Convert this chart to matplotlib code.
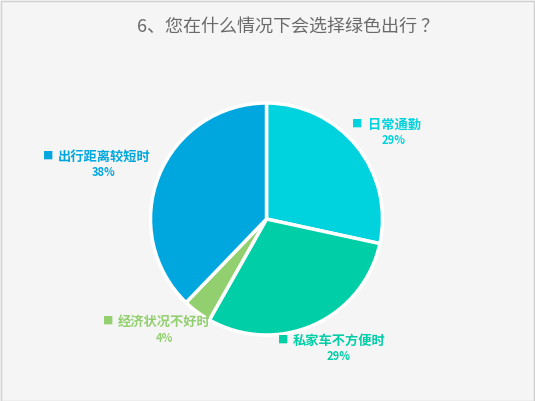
import matplotlib
matplotlib.use("Agg")
import matplotlib.pyplot as plt

plt.rcParams['font.family'] = ['Noto Sans CJK SC', 'DejaVu Sans']

# datos
categorias = ['日常通勤', '私家车不方便时', '经济状况不好时', '出行距离较短时']
valores = [28.4, 29.8, 4.0, 37.8]
etiquetas_pct = ['29%', '29%', '4%', '38%']
colores = ['#00D3DD', '#00CEA6', '#92D06F', '#00A7DE']

titulo = '6、您在什么情况下会选择绿色出行 ？'

W, H = 535, 401
fig = plt.figure(figsize=(W / 100, H / 100), dpi=100)
fig.patch.set_facecolor('#F5F5F5')

def px(x, y):
    # píxeles (desde arriba-izquierda) -> fracción de figura
    return x / W, 1 - y / H

# borde exterior
fig.add_artist(plt.Rectangle((0.5 / W, 0.5 / H), 1 - 1.5 / W, 1 - 1.5 / H,
                             transform=fig.transFigure, fill=False,
                             edgecolor='#D0D0D0', linewidth=1))

cx, cy, r = 266.5, 219, 116
ax = fig.add_axes([(cx - r) / W, (H - cy - r) / H, 2 * r / W, 2 * r / H])
ax.pie(valores, colors=colores, startangle=90, counterclock=False,
       wedgeprops=dict(edgecolor='white', linewidth=2.5))
ax.set_xlim(-1.0, 1.0)
ax.set_ylim(-1.0, 1.0)
ax.set_aspect('equal')
ax.axis('off')

fig.text(*px(288, 27), titulo, ha='center', va='center', fontsize=13, color='#6A6A6A')

# posiciones de las etiquetas (píxeles)
pos_etiq = [(394, 125), (339, 341), (164, 322), (104, 157)]
for cat, pct, col, (x, y) in zip(categorias, etiquetas_pct, colores, pos_etiq):
    fig.text(*px(x, y), cat, ha='center', va='center', fontsize=9.5,
             fontweight='bold', color=col)
    ancho = len(cat) * 13.2
    fig.text(*px(x - ancho / 2 - 10, y - 1), '■', ha='center', va='center',
             fontsize=7.5, color=col)
    fig.text(*px(x, y + 16), pct, ha='center', va='center', fontsize=8,
             fontweight='bold', color=col)

fig.savefig('out.png', dpi=100, facecolor=fig.get_facecolor())
